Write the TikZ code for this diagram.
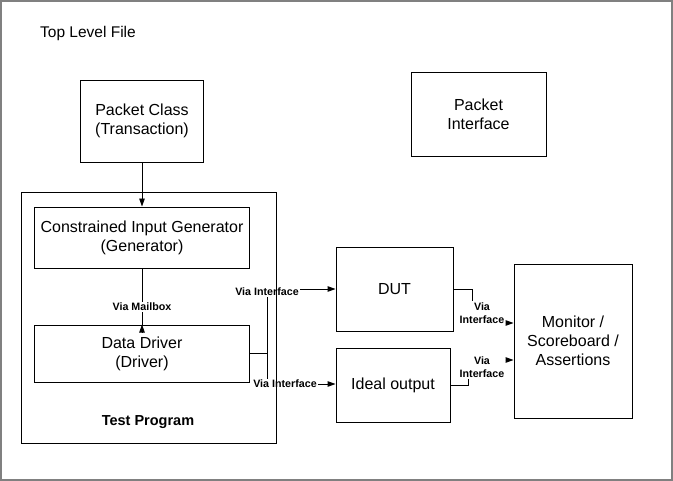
\documentclass[tikz,border=0pt]{standalone}
\usepackage{fontspec}
\setmainfont{Liberation Sans}
\usepackage{tikz}
\usetikzlibrary{positioning}
\usetikzlibrary{arrows.meta}

\begin{document}
\begin{tikzpicture}[x=1pt, y=-1pt,
	box/.style={draw, line width=0.9pt, align=center, inner sep=0pt, font=\fontsize{16}{19}\selectfont},
	via/.style={inner sep=1pt, align=center, font=\bfseries\fontsize{10.7}{13}\selectfont},
	arr/.style={-{Triangle[length=8pt,width=5.5pt]}, line width=0.9pt},
	wire/.style={line width=0.9pt}]
			\useasboundingbox (0,0) rectangle (673,481);
			\draw[gray, line width=2pt] (1,1) rectangle (672,480);
			\node[anchor=west, inner sep=0pt, font=\fontsize{15.5}{18}\selectfont] (TopLevel) at (40,33) {Top Level File};
			\node[box, minimum width=123pt, minimum height=82pt] (PacketClass) at (142,121) {Packet Class\\(Transaction)};
			\node[box, minimum width=135pt, minimum height=84pt] (PacketIf) at (478.5,114) {Packet\\Interface};
			\node[draw, line width=0.9pt, minimum width=255pt, minimum height=251pt] (TestProg) at (148.5,317.5) {};
			\node[box, minimum width=215pt, minimum height=61pt] (Generator) at (142,237.5) {Constrained Input Generator\\(Generator)};
			\node[box, minimum width=215pt, minimum height=57pt] (Driver) at (142,353.5) {Data Driver\\(Driver)};
			\node[font=\bfseries\fontsize{14.5}{17}\selectfont] (TestLabel) at (148,422) {Test Program};
			\node[box, minimum width=117pt, minimum height=84pt] (DUT) at (394.5,289) {DUT};
			\node[box, minimum width=114pt, minimum height=74pt] (Ideal) at (393,385) {Ideal output};
			\node[box, minimum width=118pt, minimum height=154pt] (Monitor) at (573,341) {Monitor /\\Scoreboard /\\Assertions};
			% connectors
			\draw[arr] (PacketClass) -- (Generator);
			\draw[wire] (Generator) -- (Driver);
			\draw[arr] (Driver.north) ++(0,8) -- (Driver.north);
			\node[via, fill=white] (viaMail) at (142,307) {Via Mailbox};
			\node[via] (viaUp) at (267,292) {Via Interface};
			\node[via] (viaLo) at (285,384) {Via Interface};
			\draw[wire] (Driver.east) -- (Driver.east -| viaUp.south);
			\draw[wire] (viaUp.south) -- (viaUp.south |- viaLo.north);
			\draw[arr] (viaUp.east |- DUT.west) -- (DUT.west);
			\draw[arr] (viaLo.east) -- (viaLo.east -| Ideal.west);
			\node[via] (viaMonA) at (482,313) {Via\\Interface};
			\node[via] (viaMonB) at (482,367) {Via\\Interface};
			\draw[wire] (DUT.east) -| ([xshift=-10pt]viaMonA.north);
			\draw[arr] ([yshift=-10pt]viaMonA.east) -- ([yshift=-10pt]viaMonA.east -| Monitor.west);
			\draw[wire] (Ideal.east) -| ([xshift=-14pt]viaMonB.south);
			\draw[arr] ([yshift=7pt]viaMonB.east) -- ([yshift=7pt]viaMonB.east -| Monitor.west);
		\end{tikzpicture}
\end{document}
